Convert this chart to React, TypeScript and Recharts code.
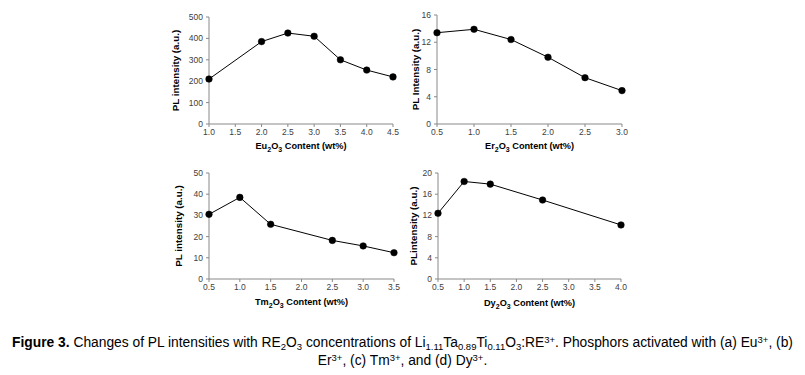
import React from 'react';
import { LineChart, Line, XAxis, YAxis } from 'recharts';

const euX = [1.0, 2.0, 2.5, 3.0, 3.5, 4.0, 4.5];
const euY = [210, 385, 425, 410, 300, 252, 220];
const erX = [0.5, 1.0, 1.5, 2.0, 2.5, 3.0];
const erY = [13.4, 13.9, 12.4, 9.8, 6.8, 4.9];
const tmX = [0.5, 1.0, 1.5, 2.5, 3.0, 3.5];
const tmY = [30.5, 38.5, 25.8, 18.2, 15.6, 12.4];
const dyX = [0.5, 1.0, 1.5, 2.5, 4.0];
const dyY = [12.4, 18.4, 17.9, 14.9, 10.2];

const euXTicks = [1.0, 1.5, 2.0, 2.5, 3.0, 3.5, 4.0, 4.5];
const erXTicks = [0.5, 1.0, 1.5, 2.0, 2.5, 3.0];
const tmXTicks = [0.5, 1.0, 1.5, 2.0, 2.5, 3.0, 3.5];
const dyXTicks = [0.5, 1.0, 1.5, 2.0, 2.5, 3.0, 3.5, 4.0];
const euYTicks = [0, 100, 200, 300, 400, 500];
const erYTicks = [0, 4, 8, 12, 16];
const tmYTicks = [0, 10, 20, 30, 40, 50];
const dyYTicks = [0, 4, 8, 12, 16, 20];

const FONT = 'Arial, "Liberation Sans", sans-serif';
const AXIS = '#898989';
const TICK = '#404040';

interface PanelProps {
  left: number;
  top: number;
  xs: number[];
  ys: number[];
  xTicks: number[];
  yTicks: number[];
  oxide: string;
  yTitle: string;
  plot: { x: number; y: number; w: number; h: number };
  xLabelY: number;
  yLabelX: number;
}

function Panel({ left, top, xs, ys, xTicks, yTicks, oxide, yTitle, plot, xLabelY, yLabelX }: PanelProps) {
  const W = 250;
  const H = 160;
  const data = xs.map((x, i) => ({ x, y: ys[i] }));
  const cx = plot.x + plot.w / 2;
  const cy = plot.y + plot.h / 2;
  return (
    <div style={{ position: 'absolute', left, top, width: W, height: H }}>
      <LineChart width={W} height={H} data={data}
        margin={{ top: plot.y, right: W - plot.x - plot.w, left: 0, bottom: 0 }}>
        <XAxis dataKey="x" type="number" domain={[xTicks[0], xTicks[xTicks.length - 1]]} ticks={xTicks}
          height={H - plot.y - plot.h} stroke={AXIS} tickSize={3} tickMargin={2}
          tick={{ fontSize: 8.5, fill: TICK, fontFamily: FONT }}
          tickFormatter={(v: number) => v.toFixed(1)}
          label={{
            content: () => (
              <text x={cx} y={xLabelY} textAnchor="middle" dominantBaseline="central" fontFamily={FONT} fontSize={9.2} fontWeight="bold" fill="#000">
                {oxide}<tspan fontSize={7} dy={2.5}>2</tspan><tspan dy={-2.5}>O</tspan><tspan fontSize={7} dy={2.5}>3</tspan><tspan dy={-2.5}> Content (wt%)</tspan>
              </text>
            ),
          }} />
        <YAxis type="number" domain={[yTicks[0], yTicks[yTicks.length - 1]]} ticks={yTicks}
          width={plot.x} stroke={AXIS} tickSize={3} tickMargin={3}
          tick={{ fontSize: 8.5, fill: TICK, fontFamily: FONT }}
          label={{
            content: () => (
              <text x={yLabelX} y={cy} transform={`rotate(-90 ${yLabelX} ${cy})`} textAnchor="middle"
                dominantBaseline="central" fontFamily={FONT} fontSize={9.8} fontWeight="bold" fill="#000">
                {yTitle}
              </text>
            ),
          }} />
        <Line dataKey="y" stroke="#000" strokeWidth={1} isAnimationActive={false}
          dot={{ r: 3.3, fill: '#000', stroke: '#000', strokeWidth: 0.5 }} />
      </LineChart>
    </div>
  );
}

const subStyle: React.CSSProperties = { fontSize: 9.5, lineHeight: 0, verticalAlign: '-0.3em' };
const supStyle: React.CSSProperties = { fontSize: 9.5, lineHeight: 0, verticalAlign: '0.45em' };

export default function App() {
  return (
    <div style={{ position: 'absolute', left: 0, top: 0, width: 805, height: 375, background: '#fff', fontFamily: FONT }}>
      <Panel left={160} top={0} xs={euX} ys={euY} xTicks={euXTicks} yTicks={euYTicks} oxide="Eu"
        yTitle="PL intensity (a.u.)" plot={{ x: 49, y: 17, w: 184, h: 107 }} xLabelY={146} yLabelX={15} />
      <Panel left={400} top={0} xs={erX} ys={erY} xTicks={erXTicks} yTicks={erYTicks} oxide="Er"
        yTitle="PL Intensity (a.u.)" plot={{ x: 37, y: 15, w: 185, h: 109 }} xLabelY={146} yLabelX={15} />
      <Panel left={160} top={160} xs={tmX} ys={tmY} xTicks={tmXTicks} yTicks={tmYTicks} oxide="Tm"
        yTitle="PL intensity (a.u.)" plot={{ x: 49, y: 13, w: 185, h: 106 }} xLabelY={142} yLabelX={18} />
      <Panel left={400} top={160} xs={dyX} ys={dyY} xTicks={dyXTicks} yTicks={dyYTicks} oxide="Dy"
        yTitle="PLintensity (a.u.)" plot={{ x: 38, y: 13, w: 183, h: 106 }} xLabelY={143} yLabelX={13} />
      <div style={{ position: 'absolute', left: 0, top: 334, width: 805, textAlign: 'center', fontSize: 13.8, lineHeight: '18px', color: '#000', whiteSpace: 'nowrap' }}>
        <b>Figure 3.</b> Changes of PL intensities with RE<span style={subStyle}>2</span>O<span style={subStyle}>3</span> concentrations of Li<span style={subStyle}>1.11</span>Ta<span style={subStyle}>0.89</span>Ti<span style={subStyle}>0.11</span>O<span style={subStyle}>3</span>:RE<span style={supStyle}>3+</span>. Phosphors activated with (a) Eu<span style={supStyle}>3+</span>, (b)
        <br />
        Er<span style={supStyle}>3+</span>, (c) Tm<span style={supStyle}>3+</span>, and (d) Dy<span style={supStyle}>3+</span>.
      </div>
    </div>
  );
}
